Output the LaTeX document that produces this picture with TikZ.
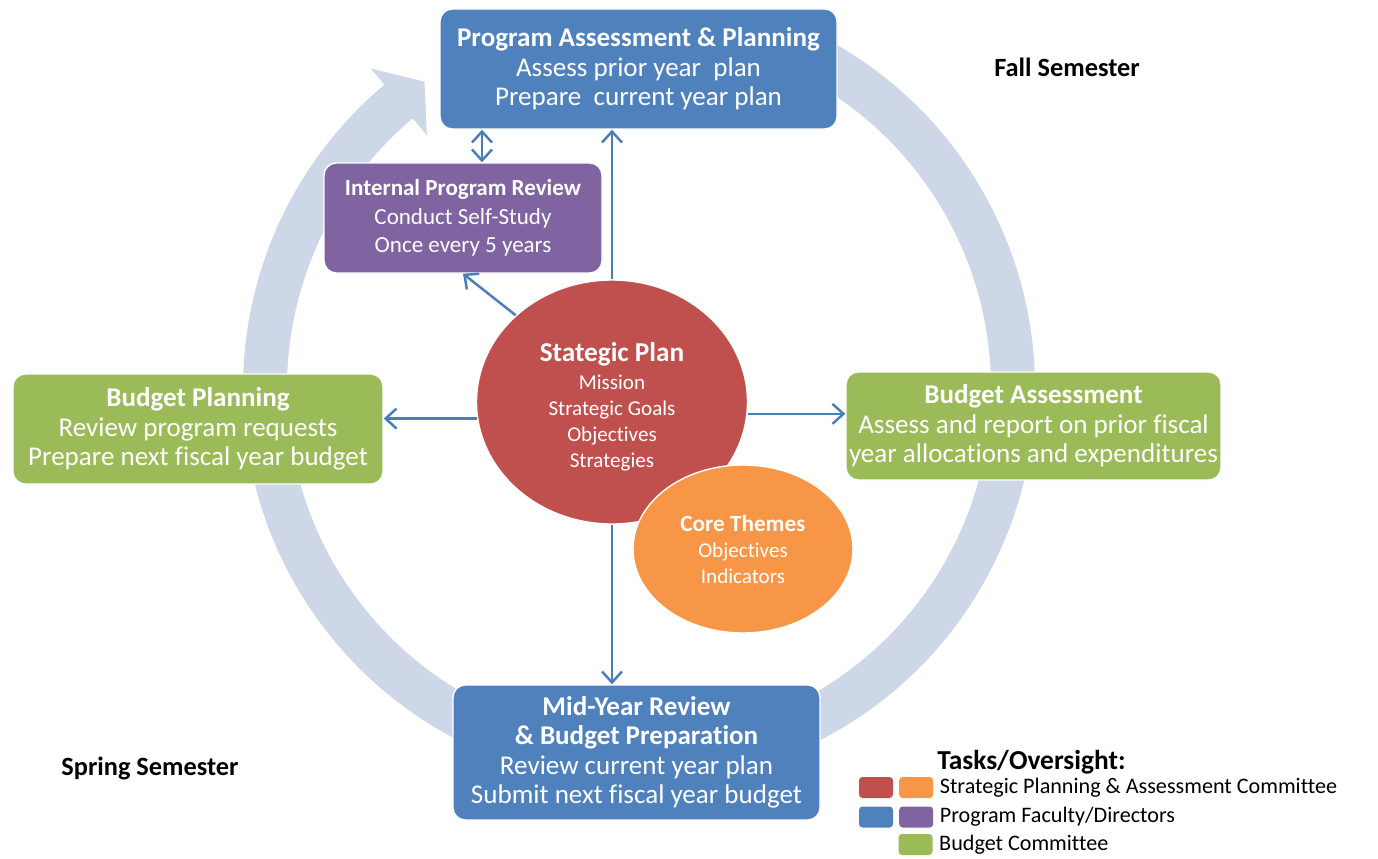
\documentclass[tikz,border=0pt]{standalone}
\usepackage{fontspec}
\setmainfont{Carlito}[Ligatures=NoCommon]
\definecolor{mBlue}{HTML}{4F81BD}
\definecolor{mPurple}{HTML}{8064A2}
\definecolor{mGreen}{HTML}{9BBB59}
\definecolor{mRed}{HTML}{C0504D}
\definecolor{mOrange}{HTML}{F79646}
\definecolor{mConn}{HTML}{4A7EBB}
\definecolor{mRing}{HTML}{CED7E7}
\usepackage{tikz}
\usetikzlibrary{positioning,arrows.meta,shapes.geometric}

\begin{document}
\begin{tikzpicture}[
  tb/.style={rounded corners=7pt, draw=white, line width=0.8pt, text=white, align=center, inner sep=0pt, font=\fontsize{15.4}{16.8}\selectfont},
  blob/.style={ellipse, draw=white, line width=0.8pt, text=white, align=center, inner sep=0pt, font=\fontsize{12}{14.8}\selectfont},
  conn/.style={draw=mConn, line width=1.4pt, -{Straight Barb[length=2.2mm,width=4mm]}},
  sem/.style={font=\fontsize{15}{17}\selectfont\bfseries},
  sw/.style={rounded corners=2pt, minimum width=0.68cm, minimum height=0.42cm, inner sep=0pt},
  leg/.style={anchor=west, inner sep=0pt, font=\fontsize{12.6}{14}\selectfont}]
\useasboundingbox (0,0) rectangle (27.56,17.16);

% cycle arrow in the back
\begin{scope}[shift={(12.78,9.4)}]
\fill[mRing] (65:7.92) arc[start angle=65, end angle=-230, radius=7.92] -- (130:8.34) -- (125:7.48) -- (130:6.6) -- (130:7.04) arc[start angle=-230, end angle=65, radius=7.04] -- cycle;
\end{scope}

\node[blob, fill=mRed, minimum width=5.42cm, minimum height=4.88cm] (sp) at (12.24,9.12)
  {\rule{0pt}{16.5pt}{\fontsize{15.5}{16}\selectfont\bfseries Stategic Plan}\\[1pt]
   Mission\\ Strategic Goals\\ Objectives\\ Strategies};
\node[blob, fill=mOrange, minimum width=4.4cm, minimum height=3.36cm] (ct) at (14.86,6.18)
  {{\fontsize{13.2}{14}\selectfont\bfseries Core Themes}\\
   Objectives\\ Indicators};

\node[tb, fill=mBlue, minimum width=7.94cm, minimum height=2.4cm] (prog) at (12.77,15.78)
  {\textbf{Program Assessment \& Planning}\\ Assess prior year\ \ plan\\ Prepare\ \ current year plan};
\node[tb, fill=mPurple, minimum width=5.56cm, minimum height=2.2cm, font=\fontsize{13.1}{16.2}\selectfont] (irp) at (9.26,12.8)
  {\textbf{Internal Program Review}\\ Conduct Self-Study\\ Once every 5 years};
\node[tb, fill=mGreen, minimum width=7.4cm, minimum height=2.2cm] (bplan) at (3.96,8.58)
  {\textbf{Budget Planning}\\ Review program requests\\ Prepare next fiscal year budget};
\node[tb, fill=mGreen, minimum width=7.5cm, minimum height=2.16cm] (bassess) at (20.67,8.64)
  {\textbf{Budget Assessment}\\ Assess and report on prior fiscal\\ year allocations and expenditures};
\node[tb, fill=mBlue, minimum width=7.34cm, minimum height=2.7cm] (mid) at (12.73,2.11)
  {\textbf{Mid-Year Review}\\ \textbf{\& Budget Preparation}\\ Review current year plan\\ Submit next fiscal year budget};

\draw[conn] (sp.north) -- (sp.north |- prog.south);
\draw[conn] (sp.south) -- (sp.south |- mid.north);
\draw[conn] (sp.187) -- (sp.187 -| bplan.east);
\draw[conn] (sp.-5) -- (sp.-5 -| bassess.west);
\draw[conn] (sp.north west) -- (irp.south);
\draw[conn, {Straight Barb[length=2.2mm,width=4mm]}-{Straight Barb[length=2.2mm,width=4mm]}] ([xshift=0.38cm]irp.north) -- ([xshift=0.38cm]irp.north |- prog.south);

\node[sem] (fall) at (21.34,15.82) {Fall Semester};
\node[sem] (spring) at (3.0,1.8) {Spring Semester};

% legend
\node[anchor=west, inner sep=0pt, font=\fontsize{15.6}{17}\selectfont\bfseries] (legt) at (18.74,1.92) {Tasks/Oversight:};
\node[sw, fill=mRed] (s1a) at (17.52,1.41) {};
\node[sw, fill=mOrange, right=0.11cm of s1a] (s1b) {};
\node[sw, fill=mBlue] (s2a) at (17.52,0.82) {};
\node[sw, fill=mPurple, right=0.11cm of s2a] (s2b) {};
\node[sw, fill=mGreen] (s3b) at (18.31,0.27) {};
\node[leg, right=0.12cm of s1b] (l1) {Strategic Planning \& Assessment Committee};
\node[leg, right=0.12cm of s2b] (l2) {Program Faculty/Directors};
\node[leg, right=0.12cm of s3b] (l3) {Budget Committee};
\end{tikzpicture}
\end{document}
